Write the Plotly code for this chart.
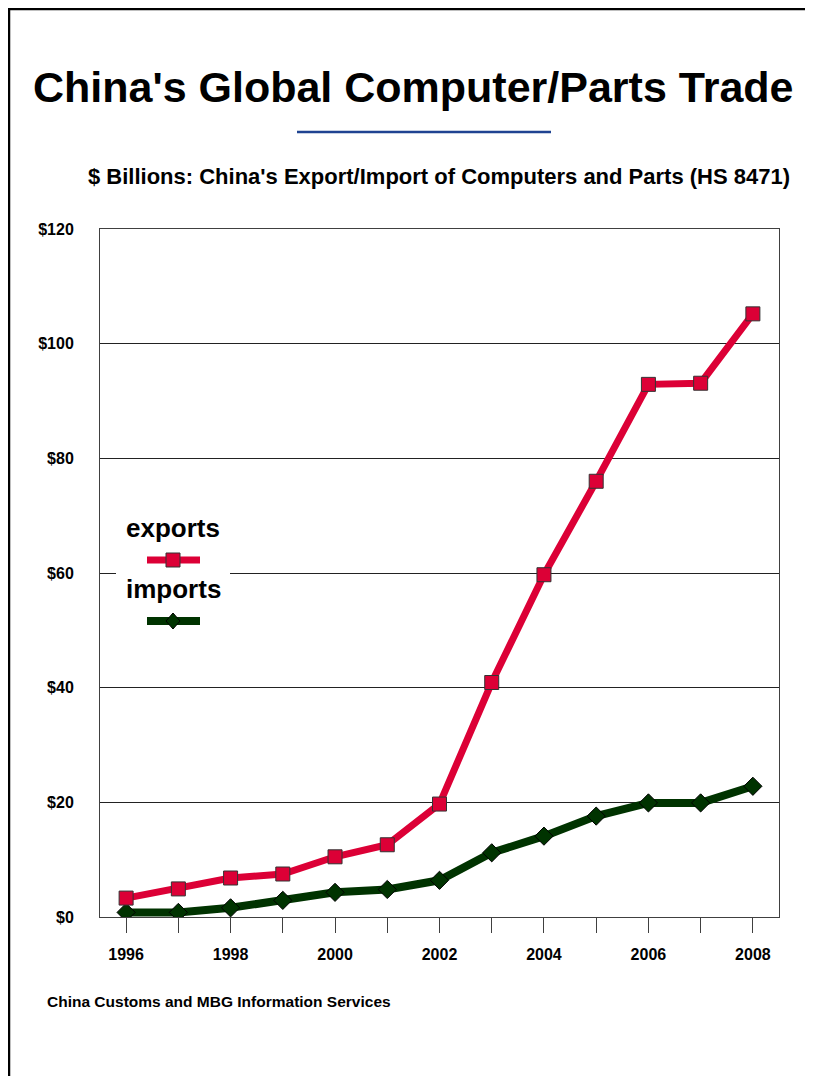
import plotly.graph_objects as go

years = [1996, 1997, 1998, 1999, 2000, 2001, 2002, 2003, 2004, 2005, 2006, 2007, 2008]
exports = [3.3, 4.9, 6.8, 7.5, 10.5, 12.6, 19.7, 40.9, 59.7, 76.0, 92.9, 93.1, 105.2]
imports = [0.8, 0.8, 1.6, 2.9, 4.3, 4.8, 6.4, 11.2, 14.1, 17.6, 19.9, 19.9, 22.8]
y_ticks = [0, 20, 40, 60, 80, 100, 120]
y_labels = ["$0", "$20", "$40", "$60", "$80", "$100", "$120"]
x_labels = [str(y) if y % 2 == 0 else "" for y in years]

RED = "#DC0036"
GREEN = "#003300"
FONT = "Liberation Sans, Arial, sans-serif"

# page body margin of 8px offsets everything; work in screen coordinates
OFF = 8
W, H = 813 - OFF, 1076 - OFF
L, R, T, B = 100 - OFF, 34, 229 - OFF, 159
PW, PH = W - L - R, H - T - B


def px(x):
    return (x - OFF - L) / PW


def py(y):
    return (H - B - (y - OFF)) / PH


fig = go.Figure()
fig.add_trace(go.Scatter(
    x=years, y=imports, mode="lines+markers", name="imports",
    line=dict(color=GREEN, width=8),
    marker=dict(symbol="diamond", size=14, color=GREEN, line=dict(color="#000000", width=1)),
    showlegend=False,
))
fig.add_trace(go.Scatter(
    x=years, y=exports, mode="lines+markers", name="exports",
    line=dict(color=RED, width=7),
    marker=dict(symbol="square", size=14, color=RED, line=dict(color="#333333", width=1)),
    showlegend=False,
))

shapes = []
# page border (top and left)
shapes.append(dict(type="line", xref="paper", yref="paper", x0=px(8), x1=px(813), y0=py(9), y1=py(9),
                   line=dict(color="#000000", width=2.5)))
shapes.append(dict(type="line", xref="paper", yref="paper", x0=px(9), x1=px(9), y0=py(8), y1=py(1076),
                   line=dict(color="#000000", width=2.5)))
# blue rule under title
shapes.append(dict(type="line", xref="paper", yref="paper", x0=px(297), x1=px(551), y0=py(132), y1=py(132),
                   line=dict(color="#1F4391", width=2.5)))
# legend box
shapes.append(dict(type="rect", xref="paper", yref="paper", x0=px(116), x1=px(230), y0=py(505), y1=py(640),
                   fillcolor="white", line=dict(width=0), layer="above"))
shapes.append(dict(type="line", xref="paper", yref="paper", x0=px(147), x1=px(200), y0=py(560), y1=py(560),
                   line=dict(color=RED, width=7), layer="above"))
shapes.append(dict(type="rect", xref="paper", yref="paper", x0=px(166), x1=px(180), y0=py(553), y1=py(567),
                   fillcolor=RED, line=dict(color="#333333", width=1), layer="above"))
shapes.append(dict(type="line", xref="paper", yref="paper", x0=px(147), x1=px(200), y0=py(621), y1=py(621),
                   line=dict(color=GREEN, width=8), layer="above"))
cx, cy = 173, 621
shapes.append(dict(type="path", xref="paper", yref="paper",
                   path=f"M {px(cx-7)} {py(cy)} L {px(cx)} {py(cy-8)} L {px(cx+7)} {py(cy)} L {px(cx)} {py(cy+8)} Z",
                   fillcolor=GREEN, line=dict(color="#000000", width=1), layer="above"))

annotations = [
    dict(text="<b>China's Global Computer/Parts Trade</b>", x=px(413), y=py(87), xref="paper", yref="paper",
         showarrow=False, xanchor="center", yanchor="middle", font=dict(family=FONT, size=43, color="#000000")),
    dict(text="<b>$ Billions: China's Export/Import of Computers and Parts (HS 8471)</b>", x=px(439), y=py(176),
         xref="paper", yref="paper", showarrow=False, xanchor="center", yanchor="middle",
         font=dict(family=FONT, size=22, color="#000000")),
    dict(text="<b>China Customs and MBG Information Services</b>", x=px(45), y=py(1001), xref="paper", yref="paper",
         showarrow=False, xanchor="left", yanchor="middle",
         font=dict(family="Liberation Sans Narrow, Arial Narrow, sans-serif", size=15.5, color="#000000")),
    dict(text="<b>exports</b>", x=px(173), y=py(528), xref="paper", yref="paper", showarrow=False,
         xanchor="center", yanchor="middle", font=dict(family=FONT, size=26, color="#000000")),
    dict(text="<b>imports</b>", x=px(173), y=py(589), xref="paper", yref="paper", showarrow=False,
         xanchor="center", yanchor="middle", font=dict(family=FONT, size=26, color="#000000")),
]

fig.update_layout(
    width=W, height=H, autosize=False,
    margin=dict(l=L, r=R, t=T, b=B, pad=0),
    paper_bgcolor="white", plot_bgcolor="white",
    shapes=shapes, annotations=annotations,
    showlegend=False,
)
fig.update_xaxes(
    range=[1995.5, 2008.5], tickmode="array", tickvals=years,
    ticktext=[f"<b>{t}</b>" if t else "" for t in x_labels],
    ticks="outside", ticklen=15, tickwidth=1, tickcolor="#404040",
    showgrid=False, zeroline=False, showline=True, mirror=True, linecolor="#404040", linewidth=1,
    tickfont=dict(family=FONT, size=16, color="#000000"), ticklabelstandoff=8,
)
fig.update_yaxes(
    range=[0, 120], tickmode="array", tickvals=y_ticks, ticktext=[f"<b>{t}</b>" for t in y_labels],
    ticks="", showgrid=True, gridcolor="#222222", gridwidth=1, zeroline=False,
    showline=True, mirror=True, linecolor="#404040", linewidth=1,
    tickfont=dict(family=FONT, size=16, color="#000000"), ticklabelstandoff=22,
)

fig.write_html("out.html")
